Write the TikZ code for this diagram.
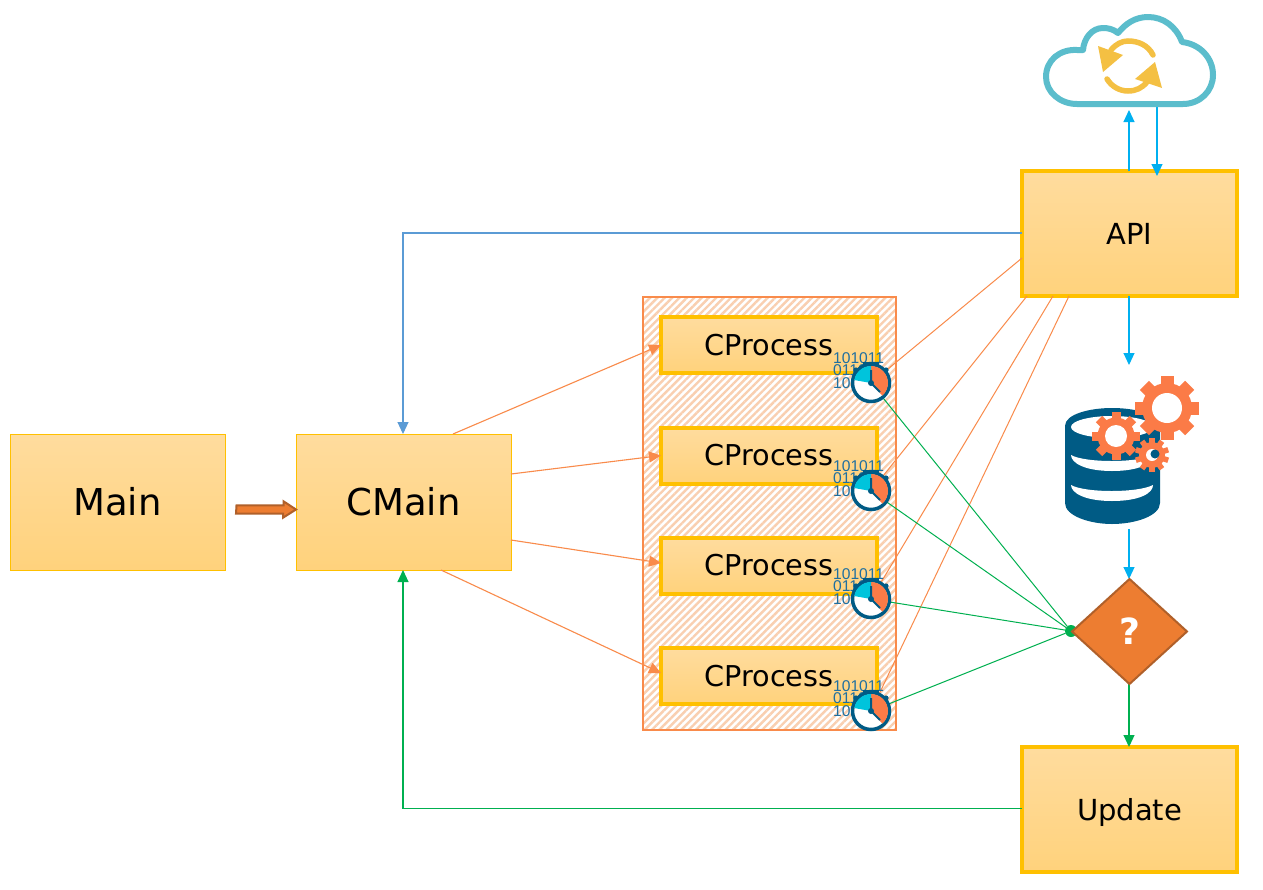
\documentclass[tikz,border=0pt]{standalone}
\usepackage{fontspec}
\setmainfont{DejaVu Sans}
\newfontfamily\binfont{Liberation Sans}
\usetikzlibrary{arrows.meta,patterns.meta,shapes.geometric,calc}
\pgfdeclarelayer{under}
\pgfdeclarelayer{lines}
\pgfsetlayers{under,lines,main}
\definecolor{gold}{HTML}{FFC000}
\definecolor{boxtop}{HTML}{FFDC9E}
\definecolor{boxbot}{HTML}{FFD27C}
\definecolor{lineor}{HTML}{F98B4B}
\definecolor{hatchor}{HTML}{F9CFB0}
\definecolor{skyb}{HTML}{00B0F0}
\definecolor{steel}{HTML}{5B9BD5}
\definecolor{grn}{HTML}{00B050}
\definecolor{dorange}{HTML}{ED7D31}
\definecolor{brownb}{HTML}{B0602A}
\definecolor{navy}{HTML}{005B85}
\definecolor{gearor}{HTML}{FB7B47}
\definecolor{cloudc}{HTML}{5BBDCC}
\definecolor{syncc}{HTML}{F4C043}
\definecolor{cyanw}{HTML}{00C4DC}
\definecolor{bint}{HTML}{1F6FA0}
\tikzset{
  anybox/.style={rectangle,draw=gold,top color=boxtop,bottom color=boxbot,inner sep=0pt,outer sep=0pt,text depth=0pt},
  thinbox/.style={anybox,line width=1pt,minimum width=215pt,minimum height=136pt,text height=27pt,font=\fontsize{37}{40}\selectfont},
  procbox/.style={anybox,line width=4pt,minimum width=216pt,minimum height=56pt,text height=21pt,text depth=1pt,font=\fontsize{28.7}{32}\selectfont},
  bigbox/.style={anybox,line width=4pt,minimum width=215pt,minimum height=125pt,text height=21pt,font=\fontsize{29}{32}\selectfont},
  conn/.style={line width=1.1pt,-{Triangle[length=12pt,width=11pt]}},
  plain/.style={line width=1pt},
  bintext/.style={font=\binfont\fontsize{15.6}{16}\selectfont,text=bint,inner sep=0pt,anchor=west},
}
\newcommand{\clockicon}[3]{%
  \node[bintext] (#1a) at (833,#3-25) {101011};
  \node[bintext] (#1b) at (833,#3-12.5) {0110};
  \node[bintext] (#1d) at (833,#3) {10};
  \node[circle,draw=navy,fill=white,line width=3.5pt,minimum size=37pt,inner sep=0pt,outer sep=0pt] (#1) at (#2,#3) {};
  \begin{scope}[shift={(#2,#3)},x=1pt,y=1pt]
    \fill[navy] (-8,17) rectangle (8,21.5);
    \fill[navy] (-15,13) circle (2.6);
    \fill[navy] (15,13) circle (2.6);
    \fill[gearor] (0,0) -- (0,17) arc (90:-48:17) -- cycle;
    \fill[cyanw] (0,0) -- (0,17) arc (90:170:17) -- cycle;
    \draw[navy,line width=2pt] (0,13) -- (0,0) -- (9,-9);
    \fill[navy] (0,0) circle (3);
  \end{scope}}
\newcommand{\gearicon}[8]{% x y R body hole teeth toothw rot
  \begin{scope}[shift={(#1,#2)},x=1pt,y=1pt]
    \foreach \a in {1,...,#6} {
      \fill[gearor,rotate=#8+\a*360/#6] (-#7/2,0) rectangle (#7/2,#3);
    }
    \fill[gearor] (0,0) circle (#4);
    \fill[white] (0,0) circle (#5);
  \end{scope}}
\begin{document}
\begin{tikzpicture}[x=1pt,y=-1pt]
\useasboundingbox (0,0) rectangle (1263,889);
\begin{pgfonlayer}{under}
\fill[white] (0,0) rectangle (1263,889);
\node[thinbox] (main) at (117.5,502) {Main};
\node[thinbox] (cmain) at (403.5,502) {CMain};
\node[rectangle,draw=lineor,line width=2pt,minimum width=253pt,minimum height=433pt,inner sep=0pt,outer sep=0pt,preaction={fill=white},pattern={Lines[angle=45,distance=5.2pt,line width=2.4pt]},pattern color=hatchor] (pool) at (769.5,513.5) {};
\node[procbox] (p1) at (769,345) {CProcess};
\node[procbox] (p2) at (769,455.5) {CProcess};
\node[procbox] (p3) at (769,565.5) {CProcess};
\node[procbox] (p4) at (769,676) {CProcess};
\node[bigbox] (api) at (1129.5,233.5) {API};
\node[bigbox] (update) at (1129.5,809.5) {Update};
\end{pgfonlayer}

% cloud
\node[inner sep=0pt,outer sep=0pt,minimum width=170pt,minimum height=90pt] (cloud) at (1129.5,60) {};
\draw[cloudc,line width=6pt,line join=round] (1077,104) -- (1183,104) .. controls (1200,104) and (1213,91) .. (1213,75) .. controls (1213,58) and (1200,44) .. (1182,42) .. controls (1176,26) and (1163,17) .. (1148,17) .. controls (1135,17) and (1125,24) .. (1118,33) .. controls (1113,29) and (1108,28) .. (1103,28) .. controls (1092,28) and (1084,38) .. (1083,50) .. controls (1081,50) and (1079,50) .. (1077,50) .. controls (1060,49) and (1046,60) .. (1046,77) .. controls (1046,92) and (1060,104) .. (1077,104) -- cycle;
\draw[syncc,line width=5.5pt,line cap=round] (1153,55) .. controls (1148,45) and (1138,41) .. (1128,41) .. controls (1122,41) and (1116,44) .. (1111,50);
\draw[syncc,line width=5.5pt,line cap=round] (1107,79) .. controls (1112,87) and (1120,91) .. (1128,91) .. controls (1136,91) and (1142,88) .. (1147,82);
\fill[syncc] (1098,46) -- (1123,55) -- (1103,72) -- cycle;
\fill[syncc] (1155,62) -- (1162,88) -- (1135,79) -- cycle;

% database
\node[inner sep=0pt,outer sep=0pt,minimum width=135pt,minimum height=164pt] (db) at (1132,447) {};
\fill[navy] (1065,426) .. controls (1065,414) and (1090,408) .. (1112,408) .. controls (1135,408) and (1160,414) .. (1160,426) -- (1160,503) .. controls (1160,516) and (1135,524) .. (1112,524) .. controls (1090,524) and (1065,516) .. (1065,503) -- cycle;
\fill[white] (1112,427) ellipse (41 and 11);
\fill[white] (1071,455) .. controls (1085,463) and (1138,463) .. (1153,455) .. controls (1153,463) and (1140,471) .. (1112,471) .. controls (1085,471) and (1071,463) .. (1071,455) -- cycle;
\fill[white] (1071,485) .. controls (1085,493) and (1138,493) .. (1153,485) .. controls (1153,493) and (1140,501) .. (1112,501) .. controls (1085,501) and (1071,493) .. (1071,485) -- cycle;
\gearicon{1167}{408}{32}{25}{15}{8}{13}{0}
\gearicon{1116}{436}{24}{18.5}{11}{8}{9}{0}
\gearicon{1152}{455}{17}{13}{6}{10}{5.5}{0}
\fill[navy] (1155,454) circle (4.5);

% diamond
\node[circle,fill=grn,minimum size=12pt,inner sep=0pt,outer sep=0pt] (dot) at (1071,631) {};
\node[diamond,aspect=1.1,draw=brownb,fill=dorange,line width=2pt,inner sep=0pt,outer sep=0pt,minimum width=115pt,minimum height=105pt,text=white,font=\bfseries\fontsize{36}{40}\selectfont] (q) at (1129.5,631.5) {?};

% clocks
\clockicon{k1}{871}{383}
\clockicon{k2}{871}{491}
\clockicon{k3}{871}{599}
\clockicon{k4}{871}{711}

% block arrow
\coordinate (bs) at ([xshift=11.5pt,yshift=-7.5pt]main.east);
\draw[brownb,fill=dorange,line width=2pt,line join=miter] (bs) ++(0,-4.2) -- ++(47,0) -- ++(0,-4) -- (cmain.west |- bs) -- ++(-13,8.2) -- ++(0,-4) -- ++(-47,0) -- cycle;

\begin{pgfonlayer}{lines}
\draw[conn,lineor] ([xshift=157pt]cmain.north west) -- (p1.west);
\draw[conn,lineor] ([yshift=28pt]cmain.east) -- (p2.west);
\draw[conn,lineor] ([yshift=-38pt]cmain.east) -- ([yshift=2.5pt]p3.west);
\draw[conn,lineor] ([xshift=145pt]cmain.south west) -- ([yshift=3pt]p4.west);
\draw[conn,steel] ([yshift=0.5pt]api.west) -| ([xshift=-0.5pt]cmain.north);
\draw[conn,grn] ([yshift=1pt]update.west) -| ([xshift=-0.5pt]cmain.south);
\draw[conn,skyb] ([xshift=-0.5pt]api.north) -- ([xshift=-0.5pt,yshift=-5pt]api.north |- cloud.south);
\draw[conn,skyb] ([xshift=27.5pt]cloud.south) -- ([xshift=27.5pt,yshift=-5pt]api.north);
\draw[conn,skyb] ([xshift=-0.5pt]api.south) -- ([xshift=-0.5pt]api.south |- db.north);
\draw[conn,skyb] ([xshift=-0.5pt]api.south |- db.south) -- ([xshift=-0.5pt]q.north);
\draw[conn,grn] ([xshift=-0.5pt]q.south) -- ([xshift=-0.5pt]update.north);
\draw[plain,lineor] ([yshift=-24.5pt]api.west) -- (k1);
\draw[plain,lineor] ([xshift=5pt]api.south west) -- (k2);
\draw[plain,lineor] ([xshift=31pt]api.south west) -- (k3);
\draw[plain,lineor] ([xshift=47pt]api.south west) -- (k4);
\draw[plain,grn] (k1) -- (dot);
\draw[plain,grn] (k2) -- (dot);
\draw[plain,grn] (k3) -- (dot);
\draw[plain,grn] (k4) -- (dot);
\end{pgfonlayer}
\end{tikzpicture}
\end{document}
